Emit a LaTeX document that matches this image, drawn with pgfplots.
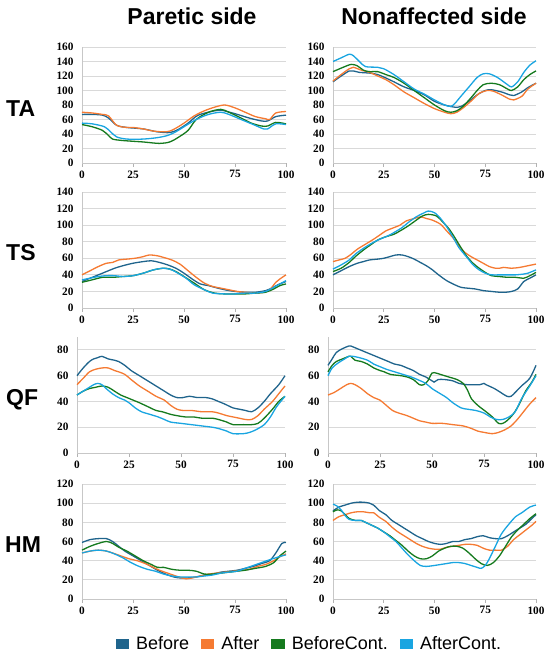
\documentclass[border=0pt]{standalone}
\usepackage{pgfplots}
\pgfplotsset{compat=1.18}
\usepackage{fontspec}
\setmainfont{Liberation Serif}
\newfontfamily\arial{Liberation Sans}
\definecolor{cB}{HTML}{1F648C}
\definecolor{cA}{HTML}{F57A32}
\definecolor{cG}{HTML}{157A1E}
\definecolor{cL}{HTML}{19A5E1}
\definecolor{gridc}{HTML}{D9D9D9}
\pgfplotsset{
  panel/.style={
    scale only axis, width=204pt, height=116pt,
    xmin=0, xmax=100, ymin=0,
    axis x line=bottom, axis y line=left,
    axis line style={-, draw=black!22, line width=0.8pt},
    xtick={0,25,50,75,100},
    tick align=outside, major tick length=4pt,
    x tick style={draw=black!30, line width=0.8pt},
    y tick style={draw=none},
    ymajorgrids, grid style={draw=gridc, line width=0.8pt},
    tick label style={font=\fontsize{11.3}{12}\selectfont\bfseries},
    /pgf/number format/assume math mode=true,
    yticklabel style={xshift=-1pt},
    clip=false,
  },
  bef/.style={color=cB, line width=1.3pt, smooth, tension=0.5, no marks},
  aft/.style={color=cA, line width=1.3pt, smooth, tension=0.5, no marks},
  befc/.style={color=cG, line width=1.3pt, smooth, tension=0.5, no marks},
  aftc/.style={color=cL, line width=1.3pt, smooth, tension=0.5, no marks},
}
\begin{document}
\begin{tikzpicture}
% titles and row labels
\node[font=\arial\bfseries\fontsize{23}{23}\selectfont, anchor=base] at (192pt,634pt) {Paretic side};
\node[font=\arial\bfseries\fontsize{23}{23}\selectfont, anchor=base] at (434pt,634pt) {Nonaffected side};
\node[font=\arial\bfseries\fontsize{23}{23}\selectfont, anchor=west, inner sep=0pt] at (6pt,550pt) {TA};
\node[font=\arial\bfseries\fontsize{23}{23}\selectfont, anchor=west, inner sep=0pt] at (6pt,406pt) {TS};
\node[font=\arial\bfseries\fontsize{23}{23}\selectfont, anchor=west, inner sep=0pt] at (6pt,259pt) {QF};
\node[font=\arial\bfseries\fontsize{23}{23}\selectfont, anchor=west, inner sep=0pt] at (5pt,114pt) {HM};

% ---------- TA paretic
\begin{axis}[panel, at={(82pt,496pt)}, anchor=south west, ymax=160, ytick={0,20,...,160}]
\addplot[bef] coordinates {(0,67)(5,67)(10,66)(13,62)(17,52)(22,49)(30,47)(37,43)(43,42)(47,46)(52,55)(57,66)(65,72)(68,73)(75,68)(82,62)(88,58)(91,58)(95,64)(100,66)};
\addplot[aft] coordinates {(0,70)(5,69)(10,67)(13,65)(17,52)(22,49)(25,49)(30,47)(35,44)(40,43)(43,44)(46,48)(50,55)(55,65)(60,72)(65,77)(70,80)(75,76)(80,70)(85,64)(90,61)(92,60)(95,69)(100,71)};
\addplot[befc] coordinates {(0,53)(5,50)(10,45)(13,38)(15,33)(20,31)(30,29)(38,27)(43,29)(47,35)(52,45)(56,60)(62,70)(68,74)(72,70)(78,62)(83,55)(88,51)(91,51)(95,56)(100,54)};
\addplot[aftc] coordinates {(0,55)(5,54)(11,50)(14,43)(17,36)(22,33)(30,33)(37,35)(42,38)(46,43)(50,50)(56,60)(62,67)(68,70)(72,67)(78,60)(84,53)(89,47)(91,47)(95,54)(100,53)};
\end{axis}
% ---------- TA nonaffected
\begin{axis}[panel, at={(333pt,496pt)}, anchor=south west, width=203pt, ymax=160, ytick={0,20,...,160}]
\addplot[bef] coordinates {(0,112)(4,120)(8,127)(10,127)(13,125)(18,124)(22,122)(27,116)(30,112)(35,105)(40,100)(45,94)(50,85)(55,80)(60,77)(63,78)(67,85)(71,94)(75,100)(78,101)(83,98)(87,94)(89,93)(93,98)(96,104)(100,110)};
\addplot[aft] coordinates {(0,113)(4,122)(8,130)(10,132)(14,128)(18,125)(22,120)(26,115)(30,108)(35,98)(40,90)(45,82)(50,75)(55,70)(58,68)(61,70)(65,78)(69,88)(72,96)(76,100)(79,99)(83,94)(87,88)(89,87)(93,92)(96,102)(100,110)};
\addplot[befc] coordinates {(0,126)(5,132)(9,136)(12,134)(15,128)(18,126)(22,126)(26,122)(30,118)(35,110)(40,100)(45,90)(50,80)(55,72)(58,70)(61,72)(64,78)(68,90)(71,100)(74,108)(78,110)(82,108)(86,102)(88,100)(91,105)(94,115)(97,122)(100,127)};
\addplot[aftc] coordinates {(0,140)(4,145)(8,150)(10,148)(13,140)(16,133)(22,132)(25,130)(30,122)(35,112)(40,102)(45,95)(50,87)(55,80)(58,78)(60,82)(63,92)(67,105)(71,118)(74,123)(77,123)(81,118)(86,108)(88,105)(91,112)(94,125)(97,135)(100,141)};
\end{axis}

% ---------- TS paretic
\begin{axis}[panel, at={(82pt,351pt)}, anchor=south west, ymax=140, ytick={0,20,...,140}]
\addplot[bef] coordinates {(0,32)(4,36)(8,40)(12,44)(16,48)(20,51)(25,54)(30,56)(34,57)(38,55)(42,52)(46,48)(50,42)(54,35)(58,29)(62,27)(65,25)(70,22)(75,20)(80,19)(85,19)(90,21)(93,24)(96,28)(100,32)};
\addplot[aft] coordinates {(0,40)(4,45)(8,50)(12,54)(15,55)(18,58)(22,59)(26,60)(30,62)(33,64)(37,63)(40,61)(44,58)(48,53)(52,45)(56,37)(60,30)(64,26)(68,24)(72,22)(76,20)(80,19)(85,18)(89,19)(92,22)(95,31)(97,35)(100,40)};
\addplot[befc] coordinates {(0,31)(5,34)(10,37)(15,37)(20,38)(25,39)(30,42)(35,46)(40,48)(43,47)(46,44)(50,38)(55,30)(60,22)(65,18)(70,17)(75,17)(80,17)(85,18)(90,19)(94,23)(97,27)(100,29)};
\addplot[aftc] coordinates {(0,34)(4,36)(8,38)(12,39)(16,39)(20,38)(25,39)(30,42)(35,46)(40,48)(44,46)(47,42)(51,36)(55,28)(60,22)(64,18)(70,17)(75,17)(80,18)(85,18)(90,20)(94,25)(97,29)(100,33)};
\end{axis}
% ---------- TS nonaffected
\begin{axis}[panel, at={(333pt,351pt)}, anchor=south west, width=203pt, ymax=140, ytick={0,20,...,140}]
\addplot[bef] coordinates {(0,40)(4,45)(8,50)(12,54)(15,56)(18,58)(22,59)(25,60)(28,62)(31,64)(34,64)(37,62)(40,59)(43,55)(46,51)(49,46)(52,40)(56,33)(60,28)(63,25)(66,24)(70,23)(74,21)(78,20)(82,19)(85,19)(88,20)(91,23)(94,32)(97,36)(100,40)};
\addplot[aft] coordinates {(0,56)(3,58)(6,60)(9,65)(12,71)(16,77)(20,83)(23,88)(26,93)(30,97)(33,100)(36,105)(40,108)(43,110)(46,108)(49,106)(53,101)(56,93)(59,85)(62,75)(65,67)(68,62)(71,58)(74,54)(77,50)(80,48)(82,48)(84,49)(88,48)(92,49)(96,51)(100,53)};
\addplot[befc] coordinates {(0,44)(4,48)(8,55)(11,62)(15,70)(19,77)(22,82)(26,86)(30,89)(33,93)(37,99)(41,106)(44,111)(47,113)(51,111)(54,104)(57,96)(60,85)(63,73)(66,62)(69,54)(72,48)(75,43)(78,39)(82,38)(86,37)(90,37)(94,36)(97,39)(100,43)};
\addplot[aftc] coordinates {(0,47)(4,52)(8,58)(11,65)(15,72)(19,78)(23,83)(27,87)(30,91)(34,97)(37,103)(41,110)(45,115)(47,117)(50,115)(53,108)(56,98)(59,86)(62,73)(66,61)(69,52)(72,46)(75,42)(78,40)(82,40)(86,40)(90,40)(94,41)(96,42)(100,46)};
\end{axis}

% ---------- QF paretic
\begin{axis}[panel, at={(77pt,206pt)}, anchor=south west, width=208pt, ymax=90, ytick={0,20,...,80}]
\addplot[bef] coordinates {(0,60)(3,66)(6,71)(8,73)(10,74)(12,75)(15,73)(18,72)(20,71)(23,68)(26,64)(30,60)(34,56)(38,52)(42,48)(45,45)(48,43)(51,43)(54,44)(58,43)(62,43)(65,42)(68,40)(71,38)(75,35)(78,34)(81,33)(84,32)(87,35)(90,40)(93,46)(97,53)(100,60)};
\addplot[aft] coordinates {(0,53)(3,58)(6,63)(9,65)(12,66)(15,66)(18,64)(20,63)(23,61)(26,57)(30,52)(34,48)(38,44)(42,41)(45,37)(48,34)(51,33)(55,33)(60,32)(65,32)(68,31)(72,29)(75,28)(78,27)(81,26)(84,26)(87,29)(90,34)(94,40)(97,46)(100,52)};
\addplot[befc] coordinates {(0,45)(3,48)(6,50)(9,51)(12,52)(15,51)(18,48)(21,45)(24,43)(27,41)(30,39)(34,36)(38,33)(41,32)(45,30)(48,29)(52,28)(56,28)(60,27)(65,27)(68,26)(72,24)(75,22)(80,22)(84,22)(87,23)(90,27)(94,34)(97,40)(100,44)};
\addplot[aftc] coordinates {(0,45)(3,48)(6,51)(8,53)(10,54)(12,53)(14,50)(17,46)(20,43)(23,41)(25,39)(28,35)(31,32)(35,30)(39,28)(42,26)(45,24)(50,23)(55,22)(60,21)(65,20)(68,19)(72,17)(75,15)(80,15)(83,16)(86,18)(90,22)(93,28)(96,36)(100,44)};
\end{axis}
% ---------- QF nonaffected
\begin{axis}[panel, at={(328pt,206pt)}, anchor=south west, width=208pt, ymax=90, ytick={0,20,...,80}]
\addplot[bef] coordinates {(0,68)(2,73)(4,78)(7,81)(10,83)(11,83)(14,81)(17,79)(20,77)(23,75)(26,73)(29,71)(32,69)(35,68)(38,66)(41,64)(44,61)(47,59)(50,56)(51,55)(53,57)(56,57)(60,56)(63,54)(67,53)(70,53)(73,53)(75,54)(76,53)(80,50)(83,47)(86,44)(88,44)(90,47)(93,52)(97,58)(100,68)};
\addplot[aft] coordinates {(0,45)(3,47)(6,50)(9,53)(11,54)(13,53)(16,50)(19,46)(22,43)(25,41)(28,37)(31,33)(34,31)(38,29)(41,27)(44,25)(47,24)(50,23)(55,23)(60,22)(65,21)(69,19)(72,17)(75,16)(79,15)(82,16)(85,18)(88,21)(91,26)(94,32)(97,38)(100,43)};
\addplot[befc] coordinates {(0,63)(2,68)(4,71)(7,73)(10,75)(11,75)(13,72)(16,71)(19,69)(22,66)(25,64)(27,63)(30,61)(35,60)(38,59)(41,57)(44,53)(46,53)(48,56)(50,62)(52,62)(54,61)(58,59)(62,57)(65,54)(67,49)(69,42)(72,37)(76,32)(79,28)(82,23)(84,23)(86,25)(89,30)(92,38)(95,48)(98,55)(100,61)};
\addplot[aftc] coordinates {(0,60)(2,66)(5,70)(8,73)(10,75)(12,75)(15,74)(19,72)(22,69)(25,67)(28,65)(32,63)(36,61)(40,59)(43,57)(47,54)(50,50)(54,46)(57,43)(60,39)(64,35)(67,34)(71,33)(75,31)(78,28)(81,26)(84,26)(87,28)(90,32)(93,42)(97,52)(100,60)};
\end{axis}

% ---------- HM paretic
\begin{axis}[panel, at={(82pt,60pt)}, anchor=south west, height=115pt, ymax=120, ytick={0,20,...,120}]
\addplot[bef] coordinates {(0,59)(4,62)(8,63)(12,63)(15,60)(18,55)(21,50)(25,45)(29,40)(33,35)(37,30)(41,26)(45,23)(48,22)(52,22)(56,23)(60,25)(64,26)(68,28)(72,29)(76,30)(80,32)(84,34)(88,37)(92,40)(95,48)(98,58)(100,59)};
\addplot[aft] coordinates {(0,48)(4,50)(8,51)(12,50)(15,48)(19,45)(23,42)(27,40)(31,37)(35,33)(38,30)(42,27)(46,24)(49,22)(51,21)(54,22)(58,24)(62,26)(66,27)(70,28)(74,29)(78,30)(82,31)(86,34)(90,36)(94,40)(97,44)(100,47)};
\addplot[befc] coordinates {(0,51)(4,55)(8,58)(12,60)(15,58)(18,54)(22,50)(26,45)(30,40)(34,36)(37,33)(40,33)(44,31)(48,30)(52,30)(56,29)(60,26)(64,26)(68,27)(72,28)(76,29)(80,30)(85,32)(90,34)(94,38)(97,45)(100,50)};
\addplot[aftc] coordinates {(0,48)(4,50)(8,51)(12,50)(16,47)(20,43)(24,38)(28,34)(32,31)(36,29)(40,26)(44,24)(48,23)(52,23)(56,23)(60,24)(64,25)(68,27)(72,28)(76,29)(80,32)(84,35)(88,38)(92,41)(95,43)(98,45)(100,46)};
\end{axis}
% ---------- HM nonaffected
\begin{axis}[panel, at={(333pt,60pt)}, anchor=south west, width=203pt, height=115pt, ymax=120, ytick={0,20,...,120},
  legend columns=4,
  legend style={at={(-0.1158,-0.391)}, anchor=center, draw=none, fill=none,
    font=\arial\fontsize{18}{18}\selectfont,
    /tikz/every even column/.append style={column sep=10pt},
    /tikz/every odd column/.append style={column sep=5pt}},
  legend image code/.code={\fill[#1] (0pt,-4pt) rectangle (12pt,4pt);},
]
\addplot[bef] coordinates {(0,92)(3,96)(6,98)(9,100)(12,101)(15,101)(18,100)(20,98)(23,92)(26,88)(29,82)(32,78)(35,74)(38,70)(41,66)(44,63)(47,60)(50,58)(53,57)(56,58)(59,60)(62,60)(65,62)(68,63)(71,65)(74,66)(77,64)(80,63)(83,63)(86,66)(89,70)(92,74)(95,78)(98,84)(100,88)};
\addplot[aft] coordinates {(0,82)(3,86)(6,88)(9,90)(12,91)(15,91)(18,90)(20,90)(23,85)(26,81)(29,75)(32,70)(35,66)(38,62)(41,58)(44,55)(47,53)(50,52)(53,52)(56,54)(59,55)(62,56)(65,57)(68,57)(71,56)(74,53)(77,51)(80,51)(83,51)(86,55)(89,62)(92,67)(95,72)(98,77)(100,81)};
\addplot[befc] coordinates {(0,91)(2,93)(4,92)(6,88)(8,84)(11,82)(14,82)(16,80)(19,77)(22,74)(25,70)(28,66)(31,61)(34,56)(37,50)(40,45)(43,42)(46,42)(49,45)(52,50)(55,53)(58,55)(61,55)(64,53)(67,48)(70,42)(73,37)(76,35)(79,38)(82,45)(85,55)(88,65)(91,72)(94,78)(97,84)(100,89)};
\addplot[aftc] coordinates {(0,99)(2,97)(4,93)(6,87)(8,83)(11,82)(14,82)(16,80)(19,77)(22,74)(25,70)(28,65)(31,60)(34,53)(37,46)(40,40)(43,35)(46,34)(50,35)(53,36)(56,37)(59,38)(62,38)(65,37)(68,35)(71,33)(73,32)(75,35)(77,42)(80,55)(83,68)(87,79)(90,86)(93,90)(97,96)(100,98)};
\legend{Before, After, BeforeCont., AfterCont.}
\end{axis}
\pgfresetboundingbox
\path (0pt,0pt) rectangle (550pt,659pt);
\end{tikzpicture}
\end{document}
